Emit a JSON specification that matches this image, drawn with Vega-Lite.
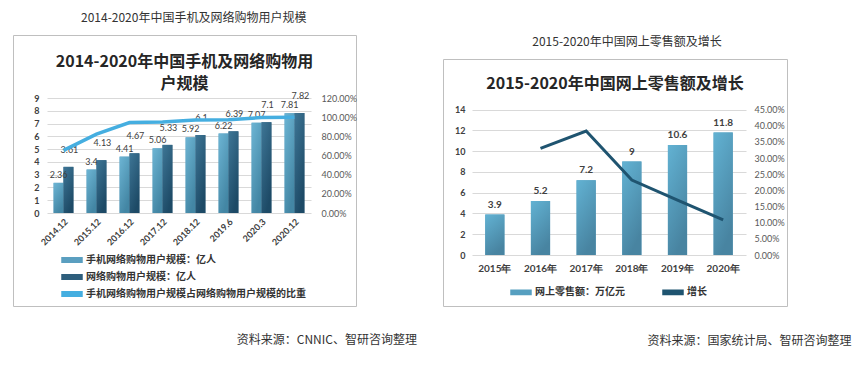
{
  "$schema": "https://vega.github.io/schema/vega-lite/v6.json",
  "padding": {"left": 12, "top": 11, "right": 0, "bottom": 0},
  "background": "white",
  "config": {
    "view": {"stroke": "#bfbfbf", "strokeWidth": 1},
    "font": "Noto Sans CJK SC",
    "axis": {"domain": false, "ticks": false, "labelFont": "Lato", "labelColor": "#404040"}
  },
  "resolve": {"scale": {"color": "independent"}},
  "spacing": 25,
  "datasets": {
    "users": [
      {"period": "2014.12", "series": "手机网络购物用户规模：亿人", "value": 2.36},
      {"period": "2014.12", "series": "网络购物用户规模：亿人", "value": 3.61},
      {"period": "2015.12", "series": "手机网络购物用户规模：亿人", "value": 3.4},
      {"period": "2015.12", "series": "网络购物用户规模：亿人", "value": 4.13},
      {"period": "2016.12", "series": "手机网络购物用户规模：亿人", "value": 4.41},
      {"period": "2016.12", "series": "网络购物用户规模：亿人", "value": 4.67},
      {"period": "2017.12", "series": "手机网络购物用户规模：亿人", "value": 5.06},
      {"period": "2017.12", "series": "网络购物用户规模：亿人", "value": 5.33},
      {"period": "2018.12", "series": "手机网络购物用户规模：亿人", "value": 5.92},
      {"period": "2018.12", "series": "网络购物用户规模：亿人", "value": 6.1},
      {"period": "2019.6", "series": "手机网络购物用户规模：亿人", "value": 6.22},
      {"period": "2019.6", "series": "网络购物用户规模：亿人", "value": 6.39},
      {"period": "2020.3", "series": "手机网络购物用户规模：亿人", "value": 7.07},
      {"period": "2020.3", "series": "网络购物用户规模：亿人", "value": 7.1},
      {"period": "2020.12", "series": "手机网络购物用户规模：亿人", "value": 7.81},
      {"period": "2020.12", "series": "网络购物用户规模：亿人", "value": 7.82}
    ],
    "ratio": [
      {"period": "2014.12", "ratio": 0.654},
      {"period": "2015.12", "ratio": 0.823},
      {"period": "2016.12", "ratio": 0.944},
      {"period": "2017.12", "ratio": 0.949},
      {"period": "2018.12", "ratio": 0.970},
      {"period": "2019.6", "ratio": 0.973},
      {"period": "2020.3", "ratio": 0.996},
      {"period": "2020.12", "ratio": 0.999}
    ],
    "sales": [
      {"year": "2015年", "sales": 3.9},
      {"year": "2016年", "sales": 5.2},
      {"year": "2017年", "sales": 7.2},
      {"year": "2018年", "sales": 9},
      {"year": "2019年", "sales": 10.6},
      {"year": "2020年", "sales": 11.8}
    ],
    "growth": [
      {"year": "2016年", "growth": 0.33},
      {"year": "2017年", "growth": 0.384},
      {"year": "2018年", "growth": 0.232},
      {"year": "2019年", "growth": 0.17},
      {"year": "2020年", "growth": 0.109}
    ]
  },
  "hconcat": [
    {
      "title": {"text": "资料来源：CNNIC、智研咨询整理", "orient": "bottom", "anchor": "end", "dx": 60, "offset": 28, "fontSize": 12, "fontWeight": "normal", "color": "#333333", "font": "Noto Sans CJK SC"},
      "vconcat": [
        {
          "title": {"text": "2014-2020年中国手机及网络购物用户规模", "anchor": "middle", "offset": 10, "dx": 9, "fontSize": 12, "fontWeight": "normal", "color": "#333333", "font": "Noto Sans CJK SC"},
          "vconcat": [
            {
              "width": 343,
              "height": 271,
              "title": {"text": ["2014-2020年中国手机及网络购物用", "户规模"], "anchor": "middle", "frame": "group", "offset": -57, "fontSize": 16, "fontWeight": "bold", "color": "#262626", "lineHeight": 22, "font": "Noto Sans CJK SC"},
              "layer": [
                {
                  "data": {"name": "users"},
                  "encoding": {
                    "x": {"field": "period", "type": "nominal", "sort": null,
                      "scale": {"range": [34, 298], "paddingInner": 0.4, "paddingOuter": 0.2},
                      "axis": {"title": null, "labelAngle": -45, "offset": -93, "labelFontSize": 9, "labelFontWeight": "bold", "labelPadding": 4}},
                    "xOffset": {"field": "series", "type": "nominal", "sort": null,
                      "scale": {"domain": ["手机网络购物用户规模：亿人", "网络购物用户规模：亿人"]}},
                    "y": {"field": "value", "type": "quantitative",
                      "scale": {"domain": [0, 9], "range": [178, 63], "nice": false},
                      "axis": {"title": null, "orient": "left", "offset": -34, "grid": true, "gridColor": "#d9d9d9", "values": [0, 1, 2, 3, 4, 5, 6, 7, 8, 9], "labelPadding": 8, "labelFontSize": 9, "labelFontWeight": "bold"}}
                  },
                  "layer": [
                    {
                      "mark": {"type": "bar"},
                      "encoding": {
                        "color": {"field": "series", "type": "nominal",
                          "scale": {"domain": ["手机网络购物用户规模：亿人", "网络购物用户规模：亿人", "手机网络购物用户规模占网络购物用户规模的比重"], "range": ["#5b9fc0", "#2e5e7c", "#45aee0"]},
                          "legend": {"title": null, "orient": "none", "legendX": 48, "legendY": 214, "direction": "vertical", "labelLimit": 400,
                            "symbolType": "M-1,-0.22H1V0.22H-1Z", "symbolSize": 400, "labelFontSize": 10, "labelFontWeight": "bold", "labelColor": "#333333", "labelFont": "Noto Sans CJK SC", "rowPadding": 0, "labelOffset": 3,
                            "encode": {"symbols": {"update": {"fill": {"scale": "color", "field": "value"}, "stroke": {"value": "transparent"}, "opacity": {"value": 1}}}}}
                        }
                      }
                    },
                    {
                      "transform": [{"filter": "datum.series === '手机网络购物用户规模：亿人'"}],
                      "mark": {"type": "bar", "color": {"gradient": "linear", "x1": 0, "y1": 0, "x2": 0.5, "y2": 1, "stops": [{"offset": 0, "color": "#6db5d4"}, {"offset": 1, "color": "#4386a4"}]}}
                    },
                    {
                      "transform": [{"filter": "datum.series === '网络购物用户规模：亿人'"}],
                      "mark": {"type": "bar", "color": {"gradient": "linear", "x1": 0, "y1": 0, "x2": 0.5, "y2": 1, "stops": [{"offset": 0, "color": "#3e7696"}, {"offset": 1, "color": "#1d4a66"}]}}
                    },
                    {
                      "transform": [{"filter": "datum.series === '手机网络购物用户规模：亿人'"}],
                      "mark": {"type": "text", "dy": -8, "dx": 0, "fontSize": 9, "font": "Lato", "color": "#404040"},
                      "encoding": {"text": {"field": "value", "type": "quantitative"}}
                    },
                    {
                      "transform": [{"filter": "datum.series === '网络购物用户规模：亿人'"}],
                      "mark": {"type": "text", "dy": -17, "dx": 1, "fontSize": 9, "font": "Lato", "color": "#404040"},
                      "encoding": {"text": {"field": "value", "type": "quantitative"}}
                    }
                  ]
                },
                {
                  "data": {"name": "ratio"},
                  "mark": {"type": "line", "strokeWidth": 3.5},
                  "encoding": {
                    "x": {"field": "period", "type": "nominal", "sort": null},
                    "y": {"field": "ratio", "type": "quantitative",
                      "scale": {"domain": [0, 1.2], "range": [178, 63], "nice": false},
                      "axis": {"title": null, "orient": "right", "offset": -45, "format": ".2%", "values": [0, 0.2, 0.4, 0.6, 0.8, 1, 1.2], "grid": false, "labelPadding": 10, "labelFontSize": 9, "labelColor": "#595959"}},
                    "color": {"datum": "手机网络购物用户规模占网络购物用户规模的比重"}
                  }
                }
              ],
              "resolve": {"scale": {"y": "independent"}}
            }
          ]
        }
      ]
    },
    {
      "title": {"text": "资料来源：国家统计局、智研咨询整理", "orient": "bottom", "anchor": "end", "dx": 64, "offset": 29, "fontSize": 12, "fontWeight": "normal", "color": "#333333", "font": "Noto Sans CJK SC"},
      "spacing": 0,
      "vconcat": [
        {
          "width": 344,
          "height": 22,
          "view": {"stroke": "transparent"},
          "title": {"text": "2015-2020年中国网上零售额及增长", "anchor": "middle", "frame": "group", "offset": -14, "dx": 12, "fontSize": 12, "fontWeight": "normal", "color": "#333333", "font": "Noto Sans CJK SC"},
          "data": {"name": "sales"},
          "mark": {"type": "point", "opacity": 0},
          "encoding": {
            "x": {"field": "year", "type": "nominal", "axis": null}
          }
        },
        {
          "width": 344,
          "height": 247,
          "title": {"text": "2015-2020年中国网上零售额及增长", "anchor": "middle", "frame": "group", "offset": -33, "fontSize": 16, "fontWeight": "bold", "color": "#262626", "font": "Noto Sans CJK SC"},
          "layer": [
            {
              "data": {"name": "sales"},
              "encoding": {
                "x": {"field": "year", "type": "nominal", "sort": null,
                  "scale": {"range": [29, 303], "paddingInner": 0.58, "paddingOuter": 0.29},
                  "axis": {"title": null, "labelAngle": 0, "offset": -51, "labelFontSize": 10, "labelFontWeight": "bold", "labelPadding": 8}},
                "y": {"field": "sales", "type": "quantitative",
                  "scale": {"domain": [0, 14], "range": [196, 50.7], "nice": false},
                  "axis": {"title": null, "orient": "left", "offset": -29, "grid": true, "gridColor": "#d9d9d9", "values": [0, 2, 4, 6, 8, 10, 12, 14], "labelPadding": 7, "labelFontSize": 9, "labelFontWeight": "bold"}}
              },
              "layer": [
                {
                  "mark": {"type": "bar"},
                  "encoding": {
                    "color": {"datum": "网上零售额：万亿元", "type": "nominal",
                      "scale": {"domain": ["网上零售额：万亿元", "增长"], "range": ["#569fc0", "#1f5470"]},
                      "legend": {"title": null, "orient": "none", "legendX": 67, "legendY": 246, "direction": "horizontal", "columnPadding": 35, "labelLimit": 400,
                        "symbolType": "M-1,-0.22H1V0.22H-1Z", "symbolSize": 400, "labelFontSize": 10, "labelFontWeight": "bold", "labelColor": "#333333", "labelFont": "Noto Sans CJK SC", "labelOffset": 3,
                        "encode": {"symbols": {"update": {"fill": {"scale": "color", "field": "value"}, "stroke": {"value": "transparent"}, "opacity": {"value": 1}}}}}
                    }
                  }
                },
                {
                  "mark": {"type": "bar", "color": {"gradient": "linear", "x1": 0, "y1": 0, "x2": 0.4, "y2": 1, "stops": [{"offset": 0, "color": "#62b2d3"}, {"offset": 1, "color": "#4884a1"}]}}
                },
                {
                  "mark": {"type": "text", "dy": -10, "fontSize": 10, "fontWeight": "bold", "font": "Lato", "color": "#404040"},
                  "encoding": {"text": {"field": "sales", "type": "quantitative"}}
                }
              ]
            },
            {
              "data": {"name": "growth"},
              "mark": {"type": "line", "strokeWidth": 3},
              "encoding": {
                "x": {"field": "year", "type": "nominal", "sort": null},
                "y": {"field": "growth", "type": "quantitative",
                  "scale": {"domain": [0, 0.45], "range": [196, 50.7], "nice": false},
                  "axis": {"title": null, "orient": "right", "offset": -41, "format": ".2%", "values": [0, 0.05, 0.1, 0.15, 0.2, 0.25, 0.3, 0.35, 0.4, 0.45], "grid": false, "labelPadding": 8, "labelFontSize": 9, "labelColor": "#595959"}},
                "color": {"datum": "增长"}
              }
            }
          ],
          "resolve": {"scale": {"y": "independent"}}
        }
      ]
    }
  ]
}
